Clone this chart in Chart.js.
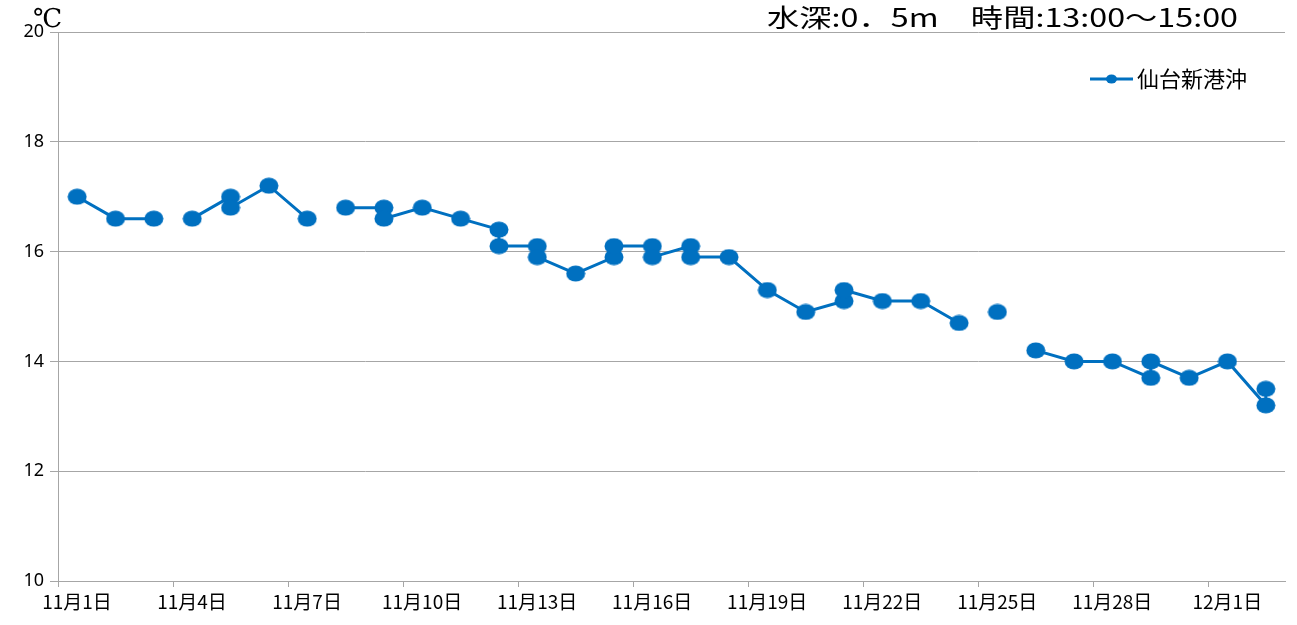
<!DOCTYPE html>
<html>
<head>
<meta charset="utf-8">
<script src="https://cdn.jsdelivr.net/npm/chart.js@4"></script>
<style>
  body { margin: 0; background: #fff; }
  canvas { display: block; }
</style>
</head>
<body>
<canvas id="chart" width="1297" height="625"></canvas>
<script>
// days counted from 11/1 (0 = 11月1日); null temp = break in the line
const days = [0, 1, 2, 2.5, 3, 4, 4, 5, 6, 6.5, 7, 8, 8, 9, 10, 11, 11, 12, 12, 13,
  14, 14, 15, 15, 16, 16, 17, 18, 19, 20, 20, 21, 22, 23, 23.5, 24, 24.5, 25, 26, 27,
  28, 28, 29, 30, 31, 31];
const temps = [17.0, 16.6, 16.6, null, 16.6, 17.0, 16.8, 17.2, 16.6, null, 16.8, 16.8, 16.6, 16.8, 16.6, 16.4, 16.1, 16.1, 15.9, 15.6,
  15.9, 16.1, 16.1, 15.9, 16.1, 15.9, 15.9, 15.3, 14.9, 15.1, 15.3, 15.1, 15.1, 14.7, null, 14.9, null, 14.2, 14.0, 14.0,
  13.7, 14.0, 13.7, 14.0, 13.2, 13.5];

const tickDays = [0, 3, 6, 9, 12, 15, 18, 21, 24, 27, 30];
const tickLabels = ['11月1日', '11月4日', '11月7日', '11月10日', '11月13日', '11月16日',
  '11月19日', '11月22日', '11月25日', '11月28日', '12月1日'];

const seriesName = '仙台新港沖';
const titleText = '水深:0．5m　時間:13:00～15:00';
const blue = '#0070C0';
const gray = '#a6a6a6';

// slightly oval marker like the original
const marker = document.createElement('canvas');
marker.width = 20;
marker.height = 17;
const mctx = marker.getContext('2d');
mctx.fillStyle = blue;
mctx.beginPath();
mctx.ellipse(10, 8.5, 9.5, 8, 0, 0, Math.PI * 2);
mctx.fill();

const extras = {
  id: 'extras',
  afterDraw(chart) {
    const ctx = chart.ctx;
    ctx.save();
    // title, top right
    ctx.font = '25px "Noto Sans CJK JP"';
    ctx.fillStyle = '#000';
    ctx.textBaseline = 'alphabetic';
    const w = ctx.measureText(titleText).width;
    const target = 471;
    ctx.translate(1238 - target, 27);
    ctx.scale(target / w, 1);
    ctx.fillText(titleText, 0, 0);
    ctx.setTransform(1, 0, 0, 1, 0, 0);

    // unit
    ctx.font = '26px "DejaVu Serif"';
    ctx.fillText('℃', 33, 27);

    // legend
    ctx.strokeStyle = blue;
    ctx.lineWidth = 3;
    ctx.beginPath();
    ctx.moveTo(1090, 79);
    ctx.lineTo(1133, 79);
    ctx.stroke();
    ctx.fillStyle = blue;
    ctx.beginPath();
    ctx.ellipse(1111.5, 79, 5.5, 4.5, 0, 0, Math.PI * 2);
    ctx.fill();
    ctx.fillStyle = '#000';
    ctx.font = '22px "Noto Sans CJK JP"';
    ctx.textBaseline = 'middle';
    ctx.fillText(seriesName, 1137, 79);
    ctx.restore();
  }
};

new Chart(document.getElementById('chart'), {
  type: 'line',
  data: {
    datasets: [{
      label: seriesName,
      data: days.map((d, i) => ({ x: d + 0.5, y: temps[i] })),
      borderColor: blue,
      backgroundColor: blue,
      borderWidth: 3,
      pointStyle: marker,
      pointRadius: 9,
      spanGaps: false,
      tension: 0
    }]
  },
  options: {
    responsive: false,
    animation: false,
    devicePixelRatio: 1,
    layout: { padding: { top: 32, right: 4, left: 0, bottom: 0 } },
    plugins: {
      legend: { display: false },
      title: { display: false },
      tooltip: { enabled: false }
    },
    scales: {
      x: {
        type: 'linear',
        min: 0,
        max: 32,
        afterBuildTicks: (scale) => { scale.ticks = tickDays.map(v => ({ value: v })); },
        afterFit: (scale) => {
          scale.height = 44;
          scale.paddingLeft = 0;
          scale.paddingRight = 0;
        },
        grid: { drawOnChartArea: false, drawTicks: true, tickLength: 6, color: gray },
        border: { display: true, color: gray },
        ticks: {
          autoSkip: false,
          maxRotation: 0,
          labelOffset: 19,
          padding: 3,
          color: '#000',
          font: { family: '"Noto Sans CJK JP"', size: 19 },
          callback: (v) => tickLabels[tickDays.indexOf(v)]
        }
      },
      y: {
        min: 10,
        max: 20,
        ticks: {
          stepSize: 2,
          padding: 6,
          color: '#000',
          font: { family: '"Noto Sans"', size: 18 }
        },
        afterFit: (scale) => { scale.width = 58; },
        grid: { color: gray, tickLength: 8 },
        border: { display: true, color: gray }
      }
    }
  },
  plugins: [extras]
});
</script>
</body>
</html>
